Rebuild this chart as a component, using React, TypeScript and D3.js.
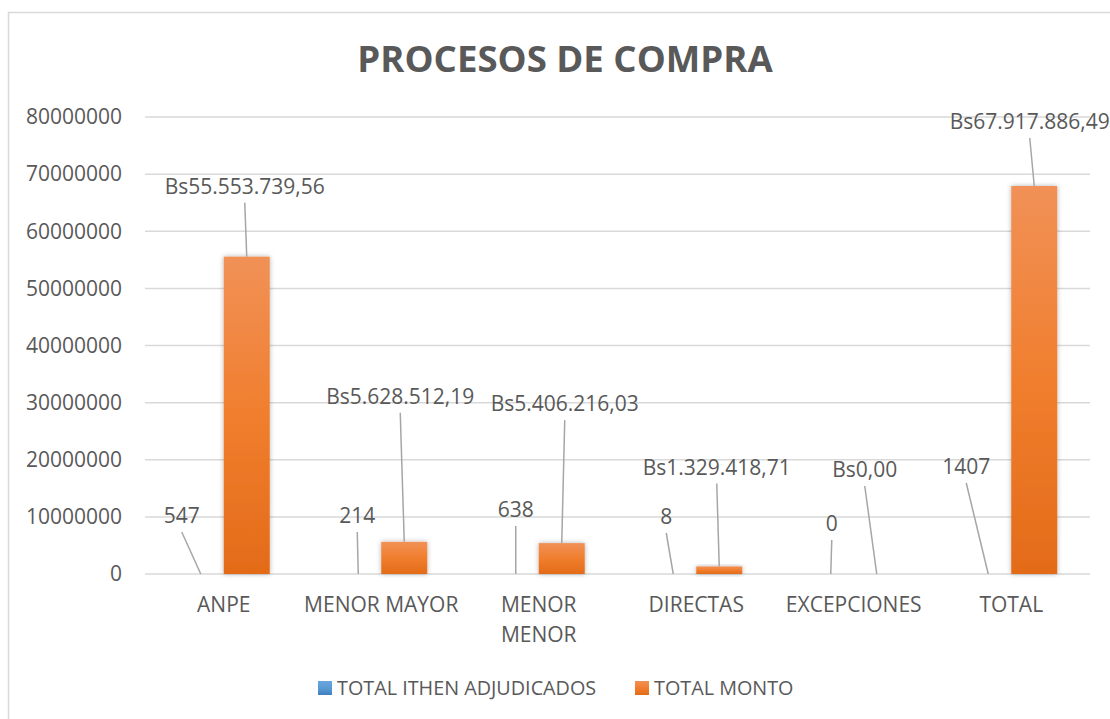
import React from 'react';
import * as d3 from 'd3';

// chart values
const categories = ['ANPE', 'MENOR MAYOR', 'MENOR MENOR', 'DIRECTAS', 'EXCEPCIONES', 'TOTAL'];
const categoryLines = [['ANPE'], ['MENOR MAYOR'], ['MENOR', 'MENOR'], ['DIRECTAS'], ['EXCEPCIONES'], ['TOTAL']];
const seriesNames = ['TOTAL ITHEN ADJUDICADOS', 'TOTAL MONTO'];
const itemValues = [547, 214, 638, 8, 0, 1407];
const montoValues = [55553739.56, 5628512.19, 5406216.03, 1329418.71, 0, 67917886.49];
const yMax = 80000000;

// where Excel dragged the data labels (offset from the bar top, px)
const itemLabelOffsets = [[-19, -58], [-1, -58], [0, -64], [-7, -57], [1, -50], [-22, -107]];
const montoLabelOffsets = [[-2, -70], [-4, -145], [3, -139], [-2.5, -99], [-12, -104], [-4.5, -64]];

const W = 1110;
const H = 719;
const margin = { left: 145, right: 20, top: 117, bottom: 145 };
const font = "'Open Sans', sans-serif";
const textColor = '#595959';

const bs = d3.formatLocale({ decimal: ',', thousands: '.', grouping: [3], currency: ['Bs', ''] }).format('$,.2f');

export default function App() {
  const x0 = d3.scaleBand().domain(categories).range([margin.left, W - margin.right]).padding(0);
  const x1 = d3.scaleBand().domain(seriesNames).range([0, x0.bandwidth()]).paddingInner(0).paddingOuter(0.712);
  const y = d3.scaleLinear().domain([0, yMax]).range([H - margin.bottom, margin.top]);
  const ticks = y.ticks(8);
  const fills = ['url(#gBlue)', 'url(#gOrange)'];
  const series = [itemValues, montoValues];
  const offsets = [itemLabelOffsets, montoLabelOffsets];
  const fmt = [(v: number) => String(v), (v: number) => bs(v)];

  return (
    <svg width={W} height={H} style={{ position: 'absolute', left: 0, top: 0, background: '#fff' }}>
      <defs>
        <linearGradient id="gOrange" x1="0" y1="0" x2="0" y2="1">
          <stop offset="0" stopColor="#f19157" />
          <stop offset="0.5" stopColor="#f07e2e" />
          <stop offset="1" stopColor="#e36b18" />
        </linearGradient>
        <linearGradient id="gBlue" x1="0" y1="0" x2="0" y2="1">
          <stop offset="0" stopColor="#6aa5dc" />
          <stop offset="0.5" stopColor="#5b9bd5" />
          <stop offset="1" stopColor="#3f7fc0" />
        </linearGradient>
        <filter id="shadow" x="-30%" y="-30%" width="160%" height="160%">
          <feDropShadow dx="0" dy="0" stdDeviation="2.5" floodColor="#000" floodOpacity="0.3" />
        </filter>
      </defs>

      <rect x={8.5} y={12.5} width={1300} height={900} fill="#fff" stroke="#d9d9d9" strokeWidth={1.5} />

      <text x={565} y={72} textAnchor="middle" fontFamily={font} fontWeight={700} fontSize={36.6} fill={textColor}>
        PROCESOS DE COMPRA
      </text>

      {ticks.map((t) => (
        <g key={t}>
          <line x1={margin.left} x2={W - margin.right} y1={y(t)} y2={y(t)} stroke="#d9d9d9" strokeWidth={1.5} />
          <text x={122} y={y(t)} dy="0.35em" textAnchor="end" fontFamily={font} fontSize={21} fill={textColor}>
            {d3.format('d')(t)}
          </text>
        </g>
      ))}

      {categories.map((c, i) => (
        <g key={c}>
          {series.map((vals, s) => {
            const bx = (x0(c) as number) + (x1(seriesNames[s]) as number);
            const top = y(vals[i]);
            const h = y(0) - top;
            return h > 0.5 ? (
              <rect key={s} x={bx} y={top} width={x1.bandwidth()} height={h} fill={fills[s]} filter="url(#shadow)" />
            ) : null;
          })}
          <text textAnchor="middle" fontFamily={font} fontSize={21} fill={textColor}>
            {categoryLines[i].map((ln, k) => (
              <tspan key={k} x={(x0(c) as number) + x0.bandwidth() / 2} y={612 + k * 29.5}>
                {ln}
              </tspan>
            ))}
          </text>
        </g>
      ))}

      {categories.map((c, i) =>
        series.map((vals, s) => {
          const cx = (x0(c) as number) + (x1(seriesNames[s]) as number) + x1.bandwidth() / 2;
          const top = y(vals[i]);
          const lx = cx + offsets[s][i][0];
          const ly = top + offsets[s][i][1];
          return (
            <g key={c + s}>
              <line x1={lx} y1={ly + 16} x2={cx} y2={top} stroke="#a6a6a6" strokeWidth={1.5} />
              <text x={lx} y={ly} dy="0.35em" textAnchor="middle" fontFamily={font} fontSize={21} fill={textColor}>
                {fmt[s](vals[i])}
              </text>
            </g>
          );
        })
      )}

      {seriesNames.map((n, s) => {
        const lx = [318, 635][s];
        return (
          <g key={n}>
            <rect x={lx} y={681} width={14} height={14} fill={fills[s]} />
            <text x={lx + 19} y={695} fontFamily={font} fontSize={19.8} fill={textColor}>
              {n}
            </text>
          </g>
        );
      })}
    </svg>
  );
}
